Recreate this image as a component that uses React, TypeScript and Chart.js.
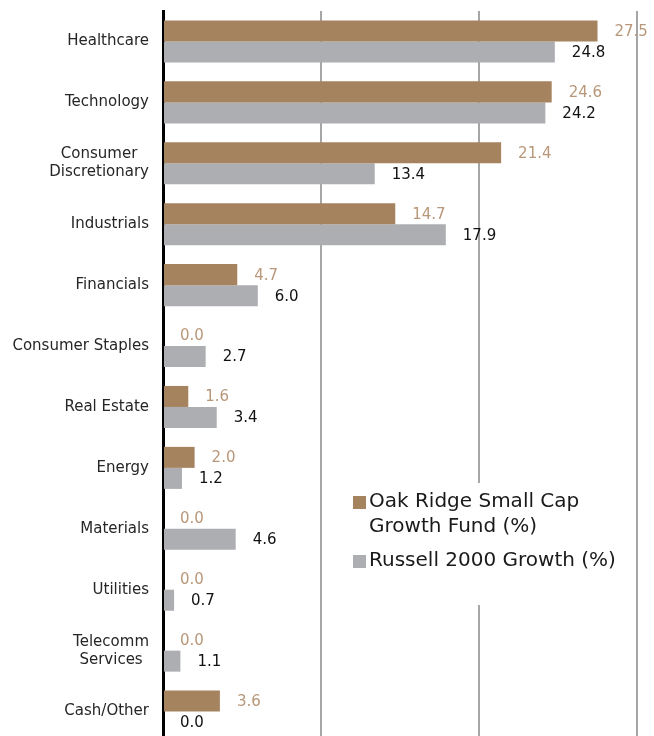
import React, { useEffect, useRef } from 'react';
import { Chart, registerables } from 'chart.js';

Chart.register(...registerables);

const categories: string[][] = [
  ['Healthcare'],
  ['Technology'],
  ['Consumer', 'Discretionary'],
  ['Industrials'],
  ['Financials'],
  ['Consumer Staples'],
  ['Real Estate'],
  ['Energy'],
  ['Materials'],
  ['Utilities'],
  ['Telecomm', 'Services'],
  ['Cash/Other'],
];
const fundValues = [27.5, 24.6, 21.4, 14.7, 4.7, 0.0, 1.6, 2.0, 0.0, 0.0, 0.0, 3.6];
const benchValues = [24.8, 24.2, 13.4, 17.9, 6.0, 2.7, 3.4, 1.2, 4.6, 0.7, 1.1, 0.0];
const seriesNames = ['Oak Ridge Small Cap Growth Fund (%)', 'Russell 2000 Growth (%)'];
const legendLines: string[][] = [['Oak Ridge Small Cap', 'Growth Fund (%)'], ['Russell 2000 Growth (%)']];
const xMin = 0;
const xMax = 30;
const xStep = 10;

const FONT = '"DejaVu Sans", "Century Gothic", sans-serif';
const FUND_COLOR = '#A6835F';
const BENCH_COLOR = '#ADAEB1';
const FUND_LABEL = '#B8977A';
const BENCH_LABEL = '#111111';

const valueLabelPlugin = {
  id: 'valueLabels',
  afterDatasetsDraw(chart: any) {
    const ctx = chart.ctx;
    ctx.save();
    ctx.font = `15px ${FONT}`;
    ctx.textBaseline = 'middle';
    ctx.textAlign = 'left';
    chart.data.datasets.forEach((ds: any, di: number) => {
      const meta = chart.getDatasetMeta(di);
      ctx.fillStyle = di === 0 ? FUND_LABEL : BENCH_LABEL;
      meta.data.forEach((bar: any, i: number) => {
        const v = ds.data[i] as number;
        ctx.fillText(v.toFixed(1), bar.x + 17, bar.y + 1);
      });
    });
    ctx.restore();
  },
};

const categoryLabelPlugin = {
  id: 'categoryLabels',
  afterDraw(chart: any) {
    const ctx = chart.ctx;
    const yScale = chart.scales.y;
    const right = chart.chartArea.left - 14;
    const lh = 18;
    ctx.save();
    ctx.font = `15px ${FONT}`;
    ctx.fillStyle = '#262626';
    ctx.textBaseline = 'middle';
    ctx.textAlign = 'center';
    categories.forEach((lines, i) => {
      const cy = yScale.getPixelForTick(i);
      const w = Math.max(...lines.map((l) => ctx.measureText(l).width));
      const cx = right - w / 2;
      const y0 = cy - ((lines.length - 1) * lh) / 2;
      lines.forEach((l, k) => ctx.fillText(l, cx, y0 + k * lh));
    });
    ctx.restore();
  },
};

const legendPlugin = {
  id: 'customLegend',
  afterDraw(chart: any) {
    const ctx = chart.ctx;
    const a = chart.chartArea;
    const bx = a.left + 190;
    const top = 483;
    ctx.save();
    ctx.fillStyle = '#ffffff';
    ctx.fillRect(bx - 8, top, 280, 122);
    ctx.font = `20px ${FONT}`;
    ctx.textBaseline = 'middle';
    ctx.textAlign = 'left';
    const colors = [FUND_COLOR, BENCH_COLOR];
    const starts = [top + 19, top + 78];
    legendLines.forEach((lines, si) => {
      const y = starts[si];
      ctx.fillStyle = colors[si];
      ctx.fillRect(bx, y - 6, 13, 13);
      ctx.fillStyle = '#1a1a1a';
      lines.forEach((l, k) => ctx.fillText(l, bx + 16, y + k * 25));
    });
    ctx.restore();
  },
};

export default function App() {
  const ref = useRef<HTMLCanvasElement | null>(null);
  useEffect(() => {
    if (!ref.current) return;
    const chart = new Chart(ref.current, {
      type: 'bar',
      data: {
        labels: categories.map((c) => c.join(' ')),
        datasets: [
          {
            label: seriesNames[0],
            data: fundValues,
            backgroundColor: FUND_COLOR,
            borderWidth: 0,
            categoryPercentage: 0.69,
            barPercentage: 1,
          },
          {
            label: seriesNames[1],
            data: benchValues,
            backgroundColor: BENCH_COLOR,
            borderWidth: 0,
            categoryPercentage: 0.69,
            barPercentage: 1,
          },
        ],
      },
      options: {
        indexAxis: 'y',
        animation: false,
        responsive: false,
        devicePixelRatio: 1,
        layout: { padding: { top: 11, right: 17, bottom: 8, left: 0 } },
        plugins: {
          legend: { display: false },
          tooltip: { enabled: false },
          title: { display: false },
        },
        scales: {
          x: {
            type: 'linear',
            min: xMin,
            max: xMax,
            ticks: { display: false, stepSize: xStep },
            grid: { color: '#A6A6A6', lineWidth: 2, drawTicks: false },
            border: { display: false },
          },
          y: {
            type: 'category',
            ticks: { display: false },
            grid: { display: false, drawTicks: false },
            border: { display: true, color: '#000000', width: 3 },
            afterFit: (scale: any) => {
              scale.width = 163;
            },
          },
        },
      },
      plugins: [valueLabelPlugin, categoryLabelPlugin, legendPlugin],
    } as any);
    return () => chart.destroy();
  }, []);
  return (
    <div style={{ position: 'fixed', left: 0, top: 0, width: 654, height: 736, overflow: 'hidden', background: '#fff' }}>
      <canvas ref={ref} width={654} height={750} style={{ width: 654, height: 750, display: 'block' }} />
    </div>
  );
}
